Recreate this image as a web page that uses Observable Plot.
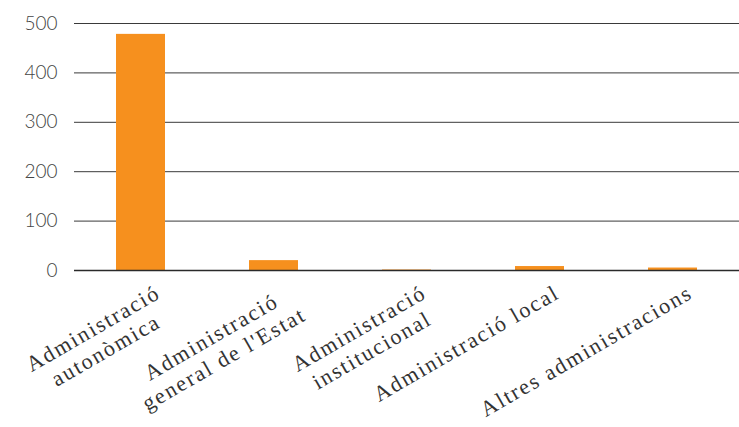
<!DOCTYPE html>
<html>
<head>
<meta charset="utf-8">
<script src="https://cdn.jsdelivr.net/npm/d3@7"></script>
<script src="https://cdn.jsdelivr.net/npm/@observablehq/plot@0.6"></script>
<style>
  html, body { margin: 0; padding: 0; background: #fff; }
</style>
</head>
<body>
<script>
const categories = [
  "Administració\nautonòmica",
  "Administració\ngeneral de l'Estat",
  "Administració\ninstitucional",
  "Administració local",
  "Altres administracions"
];
const values = [478, 20, 1, 8, 5];
const yTicks = [0, 100, 200, 300, 400, 500];

const data = categories.map((c, i) => ({category: c, value: values[i]}));

const chart = Plot.plot({
  width: 739,
  height: 427,
  marginTop: 23,
  marginBottom: 157,
  marginLeft: 74,
  marginRight: 0,
  style: {background: "#fff", fontFamily: "Lato, 'Open Sans', sans-serif"},
  x: {domain: categories, paddingInner: 0.63, paddingOuter: 0.315, label: null},
  y: {domain: [0, 500], label: null},
  marks: [
    Plot.ruleY(yTicks.filter(t => t > 0), {stroke: "#3a3a3a", strokeWidth: 1}),
    Plot.barY(data, {x: "category", y: "value", fill: "#F6901E"}),
    Plot.ruleY([0], {stroke: "#2a2a2a", strokeWidth: 1.6}),
    Plot.axisY({ticks: yTicks, tickSize: 0, tickPadding: 17, fontSize: 19, fill: "#444", fontWeight: 300, label: null}),
    Plot.axisX({tickSize: 0, tickPadding: 0, tickRotate: -30, textAnchor: "end", lineAnchor: "top",
      dx: 12, dy: 11, fontSize: 22, lineHeight: 1.15, fill: "#333", fontFamily: "'Liberation Serif', serif", label: null})
  ]
});
document.body.append(chart);

const xLabels = d3.select(chart).select('g[aria-label="x-axis tick label"]');
xLabels.attr("letter-spacing", "1.9px");
xLabels.selectAll("text").each(function() {
  const ts = Array.from(this.querySelectorAll("tspan"));
  if (ts.length < 2) return;
  const ws = ts.map(t => t.getComputedTextLength());
  const m = Math.max(...ws);
  ts.forEach((t, i) => t.setAttribute("x", -(m - ws[i]) / 2));
});
</script>
</body>
</html>
